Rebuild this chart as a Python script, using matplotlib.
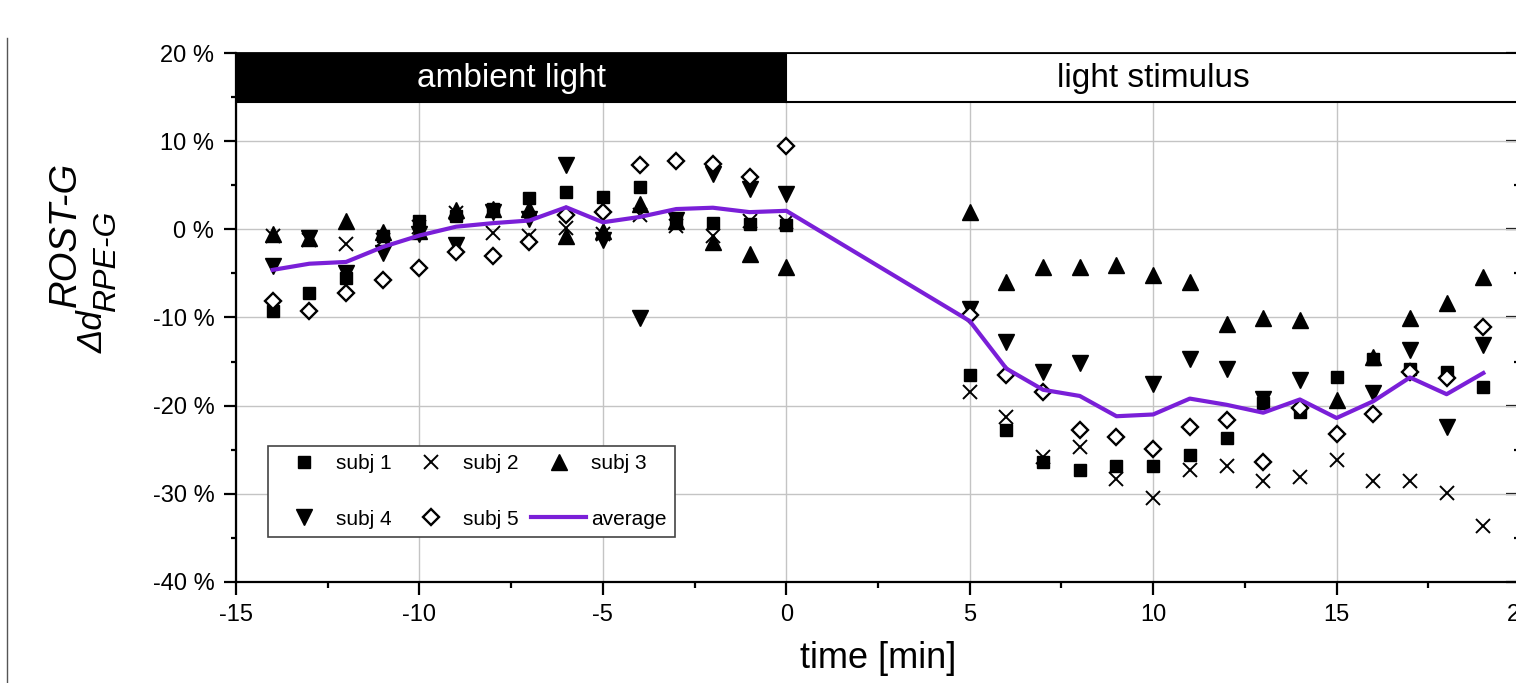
import numpy as np
import matplotlib
matplotlib.use("Agg")
import matplotlib.pyplot as plt
from matplotlib.patches import Rectangle
from matplotlib.lines import Line2D
from matplotlib.ticker import MultipleLocator, FuncFormatter

plt.rcParams['font.family'] = ['Liberation Sans', 'DejaVu Sans']
plt.rcParams['axes.unicode_minus'] = False

nan = np.nan

# time points [min]
time = [-14, -13, -12, -11, -10, -9, -8, -7, -6, -5, -4, -3, -2, -1, 0,
        5, 6, 7, 8, 9, 10, 11, 12, 13, 14, 15, 16, 17, 18, 19]

subj1 = [-9.3, -7.2, -5.5, -0.8, 1.0, 1.5, 2.3, 3.5, 4.2, 3.7, 4.8, 1.2, 0.7, 0.6, 0.45,
         -16.5, -22.8, -26.4, -27.3, -26.8, -26.8, -25.6, -23.7, -19.7, -20.7, -16.7, -14.7, -15.8, -16.2, -17.9]
subj2 = [-0.8, -1.2, -1.7, -1.2, 0.3, 1.8, -0.4, -0.7, 0.1, -0.5, 1.6, 0.4, -0.8, 1.0, 0.8,
         -18.4, -21.3, -25.8, -24.7, -28.3, -30.5, -27.3, -26.9, -28.5, -28.1, -26.2, -28.5, -28.6, -29.9, -33.7]
subj3 = [-0.5, -1.0, 1.0, -0.3, -0.2, 2.2, 2.3, 2.3, -0.7, -0.2, 2.9, 1.0, -1.4, -2.8, -4.3,
         2.0, -6.0, -4.3, -4.3, -4.1, -5.2, -6.0, -10.7, -10.1, -10.3, -19.4, -14.5, -10.1, -8.4, -5.4]
subj4 = [-4.2, -1.0, -5.0, -2.7, -0.5, -1.8, 2.0, 1.2, 7.3, -1.2, -10.1, 1.1, 6.3, 4.6, 4.0,
         -9.0, -12.8, -16.2, -15.2, nan, -17.5, -14.7, -15.8, -19.2, -17.1, nan, -18.6, -13.7, -22.4, -13.1]
subj5 = [-8.1, -9.3, -7.2, -5.7, -4.4, -2.6, -3.0, -1.4, 1.6, 2.0, 7.3, 7.8, 7.4, 5.9, 9.5,
         -9.7, -16.5, -18.4, -22.8, -23.5, -24.9, -22.4, -21.6, -26.4, -20.3, -23.2, -20.9, -16.2, -16.9, -11.1]
average = [-4.6, -3.9, -3.7, -2.0, -0.7, 0.3, 0.7, 1.0, 2.5, 0.8, 1.4, 2.3, 2.45, 1.95, 2.1,
           -10.4, -15.8, -18.2, -18.9, -21.2, -21.0, -19.2, -19.9, -20.8, -19.3, -21.4, -19.5, -16.8, -18.7, -16.3]

fig = plt.figure(figsize=(15.16, 6.83), dpi=100)
ax = fig.add_axes([236/1516, 0.1479, 1284/1516, 0.7745])

ax.set_xlim(-15, 20)
ax.set_ylim(-40, 20)

s1, = ax.plot(time, subj1, 's', color='black', ms=8.5, ls='none', label='subj 1')
s2, = ax.plot(time, subj2, 'x', color='black', ms=10, mew=1.4, ls='none', label='subj 2')
s3, = ax.plot(time, subj3, '^', color='black', ms=12, ls='none', label='subj 3')
s4, = ax.plot(time, subj4, 'v', color='black', ms=12, ls='none', label='subj 4')
s5, = ax.plot(time, subj5, 'D', mfc='white', mec='black', ms=8.5, mew=1.7, ls='none', label='subj 5')
av, = ax.plot(time, average, color='#7a1fd8', lw=3, label='average', zorder=5)

# top band
ax.add_patch(Rectangle((-15, 14.4), 15, 5.6, facecolor='black', edgecolor='black', lw=1.5, zorder=6))
ax.add_patch(Rectangle((0, 14.4), 20, 5.6, facecolor='white', edgecolor='black', lw=1.5, zorder=6))
ax.text(-7.5, 17.1, 'ambient light', color='white', fontsize=24, ha='center', va='center', zorder=7)
ax.text(10, 17.1, 'light stimulus', color='black', fontsize=24, ha='center', va='center', zorder=7)

ax.set_axisbelow(True)
ax.grid(True, color='#c4c4c4', lw=1)

ax.xaxis.set_major_locator(MultipleLocator(5))
ax.xaxis.set_minor_locator(MultipleLocator(2.5))
ax.yaxis.set_major_locator(MultipleLocator(10))
ax.yaxis.set_minor_locator(MultipleLocator(5))
ax.yaxis.set_major_formatter(FuncFormatter(lambda v, p: '%d %%' % v))
ax.tick_params(axis='x', which='major', direction='out', length=9.5, width=1.6, labelsize=17, pad=6)
ax.tick_params(axis='x', which='minor', direction='out', length=4.5, width=1.6)
ax.tick_params(axis='y', which='major', direction='out', length=8.6, width=1.6, labelsize=17, pad=7)
ax.tick_params(axis='y', which='minor', direction='out', length=3.6, width=1.6)
for sp in ['left', 'bottom', 'right']:
    ax.spines[sp].set_linewidth(1.6)
ax.spines['top'].set_linewidth(2)

sec = ax.secondary_yaxis('right')
sec.yaxis.set_major_locator(MultipleLocator(10))
sec.yaxis.set_minor_locator(MultipleLocator(5))
sec.tick_params(which='major', direction='in', length=10, width=1.6, labelright=False)
sec.tick_params(which='minor', direction='in', length=4, width=1.6)

leg = ax.legend([s1, s4, s2, s5, s3, av],
                ['subj 1', 'subj 4', 'subj 2', 'subj 5', 'subj 3', 'average'],
                ncol=3, loc='lower left', bbox_to_anchor=(0.025, 0.085), borderaxespad=0,
                fontsize=15, handlelength=2.6, handletextpad=0.25, columnspacing=0.6,
                labelspacing=1.75, borderpad=0.4, fancybox=False, framealpha=1)
leg.get_frame().set_edgecolor('#444444')
leg.get_frame().set_linewidth(1.2)

# axis labels
fig.text(878/1516, 1 - 668/683, 'time [min]', fontsize=26, ha='center', va='baseline')
fig.text(103/1516, 1 - 353/683, 'Δd', fontsize=25, style='italic', rotation=90,
         rotation_mode='anchor', ha='left', va='baseline')
fig.text(76/1516, 1 - 307/683, 'ROST-G', fontsize=27.5, style='italic', rotation=90,
         rotation_mode='anchor', ha='left', va='baseline')
fig.text(115/1516, 1 - 312/683, 'RPE-G', fontsize=23, style='italic', rotation=90,
         rotation_mode='anchor', ha='left', va='baseline')

# scan edge line at the far left
fig.add_artist(Line2D([7/1516, 7/1516], [0, 1 - 38/683], color='#555555', lw=1))

fig.savefig('out.png', dpi=100)
